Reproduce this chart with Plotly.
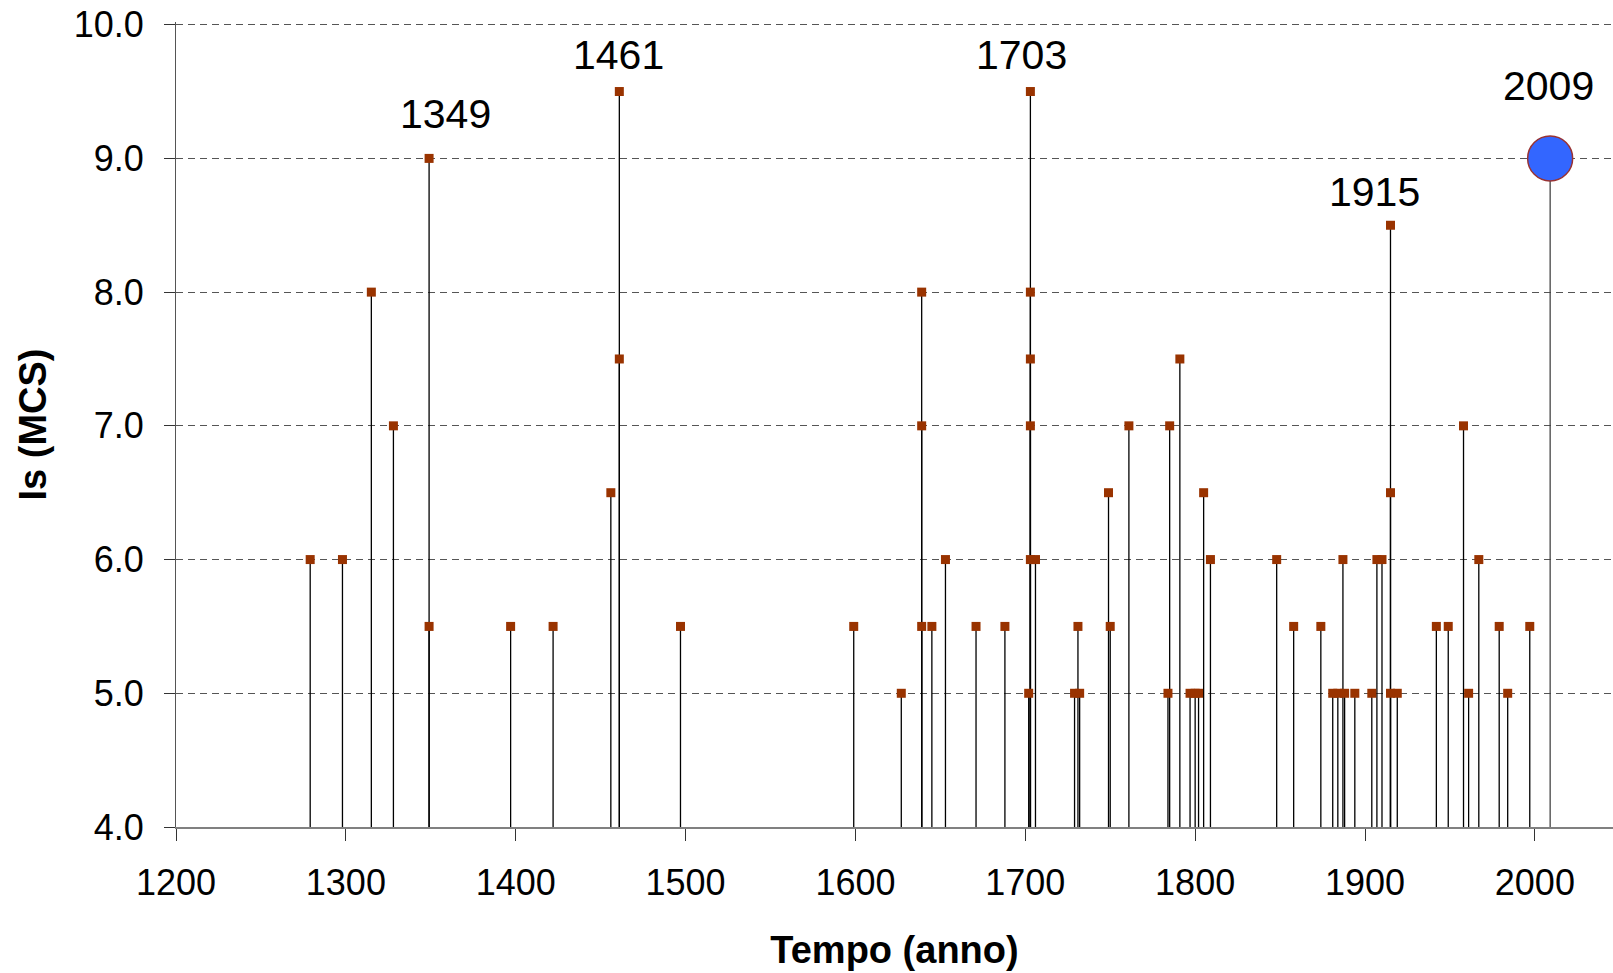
import plotly.graph_objects as go

# ---- data ----
years = [1279, 1298, 1315, 1328, 1349, 1349, 1397, 1422, 1456, 1461, 1461, 1497,
         1599, 1627, 1639, 1639, 1639, 1645, 1653, 1671, 1688,
         1702, 1703, 1703, 1703, 1703, 1703, 1706,
         1729, 1731, 1732, 1749, 1750, 1761, 1784, 1785, 1791,
         1797, 1800, 1802, 1805, 1809,
         1848, 1858, 1874, 1881, 1884, 1887, 1888, 1894,
         1904, 1907, 1910, 1915, 1915, 1915, 1919,
         1942, 1949, 1958, 1961, 1967, 1979, 1984, 1997]
values = [6.0, 6.0, 8.0, 7.0, 9.0, 5.5, 5.5, 5.5, 6.5, 9.5, 7.5, 5.5,
          5.5, 5.0, 8.0, 7.0, 5.5, 5.5, 6.0, 5.5, 5.5,
          5.0, 9.5, 8.0, 7.5, 7.0, 6.0, 6.0,
          5.0, 5.5, 5.0, 6.5, 5.5, 7.0, 5.0, 7.0, 7.5,
          5.0, 5.0, 5.0, 6.5, 6.0,
          6.0, 5.5, 5.5, 5.0, 5.0, 6.0, 5.0, 5.0,
          5.0, 6.0, 6.0, 8.5, 6.5, 5.0, 5.0,
          5.5, 5.5, 7.0, 5.0, 6.0, 5.5, 5.0, 5.5]

hl_years = [2009]
hl_values = [9.0]

label_years = [1349, 1461, 1703, 1915, 2009]
label_values = [9.0, 9.5, 9.5, 8.5, 9.0]

x_tick_vals = [1200, 1300, 1400, 1500, 1600, 1700, 1800, 1900, 2000]
y_tick_vals = [4.0, 5.0, 6.0, 7.0, 8.0, 9.0, 10.0]

x_title = "Tempo (anno)"
y_title = "Is (MCS)"

# ---- styling ----
stem_base = 3.96          # stems run slightly below the axis, as in the reference
y_top_pad = 0.02          # tiny headroom so the 10.0 gridline is drawn
label_shift_x = [16, -1, -9, -16, -2]
label_shift_y = [44, 37, 37, 33, 72]
FONT = "Arial, 'Liberation Sans', sans-serif"

fig = go.Figure()

fig.add_trace(go.Scatter(
    x=years, y=values, mode="markers",
    marker=dict(symbol="square", size=9, color="#993300",
                line=dict(width=0)),
    error_y=dict(type="data", symmetric=False,
                 array=[0] * len(values),
                 arrayminus=[v - stem_base for v in values],
                 width=0, thickness=1.3, color="#000000"),
    cliponaxis=False, showlegend=False, hoverinfo="x+y",
))

fig.add_trace(go.Scatter(
    x=hl_years, y=hl_values, mode="markers",
    marker=dict(symbol="circle", size=45, color="#3366FF",
                line=dict(width=1.5, color="#993333")),
    error_y=dict(type="data", symmetric=False,
                 array=[0] * len(hl_values),
                 arrayminus=[v - stem_base for v in hl_values],
                 width=0, thickness=1.3, color="#444444"),
    cliponaxis=False, showlegend=False, hoverinfo="x+y",
))

for yr, val, dx, dy in zip(label_years, label_values, label_shift_x, label_shift_y):
    fig.add_annotation(x=yr, y=val, text=str(yr), showarrow=False,
                       xanchor="center", yanchor="middle",
                       xshift=dx, yshift=dy,
                       font=dict(family=FONT, size=41, color="#000000"))

fig.update_layout(
    width=1613, height=973,
    margin=dict(l=176, r=0, t=22, b=146),
    paper_bgcolor="white", plot_bgcolor="white",
    font=dict(family=FONT, color="#000000"),
    xaxis=dict(
        range=[1200, 2046], tickvals=x_tick_vals,
        ticktext=[str(v) for v in x_tick_vals],
        automargin=False, ticklabeloverflow="allow",
        showgrid=False, zeroline=False,
        showline=True, linecolor="#808080", linewidth=2,
        ticks="outside", ticklen=12, tickcolor="#333333", tickwidth=1,
        tickfont=dict(family=FONT, size=36, color="#000000"),
        ticklabelstandoff=11,
        title=dict(text=x_title, standoff=34,
                   font=dict(family=FONT, size=38, color="#000000", weight="bold")),
    ),
    yaxis=dict(
        range=[y_tick_vals[0], y_tick_vals[-1] + y_top_pad], tickvals=y_tick_vals,
        ticktext=[f"{v:.1f}" for v in y_tick_vals],
        automargin=False, ticklabeloverflow="allow",
        showgrid=True, gridcolor="#555555", gridwidth=1, griddash="7px,5px",
        zeroline=False,
        showline=True, linecolor="#555555", linewidth=1,
        ticks="outside", ticklen=11, tickcolor="#333333", tickwidth=1,
        tickfont=dict(family=FONT, size=36, color="#000000"),
        ticklabelstandoff=13,
        title=dict(text=y_title, standoff=15,
                   font=dict(family=FONT, size=38, color="#000000", weight="bold")),
    ),
)

# remove the browser's default 8px body margin so the figure fills the window
fig.write_html("out.html",
               config={"displayModeBar": False},
               post_script="document.body.style.margin='0';"
                           "document.body.style.overflow='hidden';")
